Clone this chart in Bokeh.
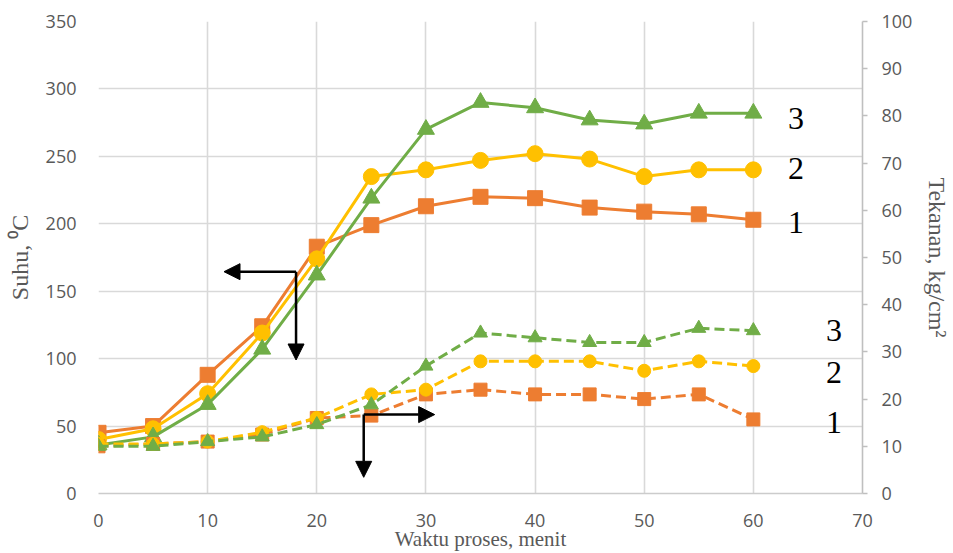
from bokeh.plotting import figure
from bokeh.models import Range1d, LinearAxis, Arrow, NormalHead, Label, FixedTicker
from bokeh.embed import file_html
from bokeh.resources import INLINE

# ---- data ----
waktu = [0, 5, 10, 15, 20, 25, 30, 35, 40, 45, 50, 55, 60]

suhu_1 = [45, 50, 88, 124, 183, 199, 213, 220, 219, 212, 209, 207, 203]
suhu_2 = [40, 48, 74, 119, 174, 235, 240, 247, 252, 248, 235, 240, 240]
suhu_3 = [36, 42, 66, 107, 162, 219, 270, 290, 286, 277, 274, 282, 282]

tekanan_1 = [10, 10.5, 11, 12.5, 16, 16.5, 21, 22, 21, 21, 20, 21, 15.7]
tekanan_2 = [10.5, 10.5, 11, 13, 16, 21, 22, 28, 28, 28, 26, 28, 27]
tekanan_3 = [10, 10, 11, 12, 14.6, 18.8, 27, 34, 33, 32, 32, 35, 34.5]

x_ticks = [0, 10, 20, 30, 40, 50, 60, 70]
left_ticks = [0, 50, 100, 150, 200, 250, 300, 350]
right_ticks = [0, 10, 20, 30, 40, 50, 60, 70, 80, 90, 100]

series_labels = ["1", "2", "3"]
label_x_suhu = 63.9
label_y_suhu = [201, 241, 278]
label_x_tek = 67.4
label_y_tek = [53, 90, 121]

# arrows (x0, y0, x1, y1) in data units of left axis
arrows = [
    (18.1, 164.5, 11.5, 164.5),
    (18.1, 164.5, 18.1, 99.0),
    (24.3, 58.5, 30.8, 58.5),
    (24.3, 58.5, 24.3, 12.0),
]

orange = "#ED7D31"
yellow = "#FFC000"
green = "#70AD47"
colors = [orange, yellow, green]
markers = ["square", "circle", "triangle"]
msize_solid = [15, 16, 17]
msize_dash = [13, 13, 14]

grey_text = "#595959"
grid_col = "#d9d9d9"

p = figure(width=953, height=553, x_range=Range1d(0, 70), y_range=Range1d(0, 350),
           output_backend="svg", toolbar_location=None,
           min_border_left=98, min_border_right=90, min_border_top=21, min_border_bottom=60)
p.extra_y_ranges = {"right": Range1d(0, 100)}
p.outline_line_color = None
p.background_fill_color = "white"

# grid
p.xgrid.ticker = FixedTicker(ticks=x_ticks)
p.ygrid.ticker = FixedTicker(ticks=left_ticks)
for g in (p.xgrid, p.ygrid):
    g.grid_line_color = grid_col
    g.grid_line_width = 1.6

# bottom axis
xa = p.xaxis[0]
xa.ticker = FixedTicker(ticks=x_ticks)
xa.axis_label = "Waktu proses, menit"
xa.axis_label_text_font = "Liberation Serif"
xa.axis_label_text_font_style = "normal"
xa.axis_label_text_font_size = "21px"
xa.axis_label_text_color = grey_text
xa.axis_label_standoff = -3
xa.major_label_text_font = "Open Sans"
xa.major_label_text_font_size = "18px"
xa.major_label_text_color = grey_text
xa.major_label_standoff = 14
xa.major_tick_line_color = None
xa.minor_tick_line_color = None
xa.axis_line_color = "#cccccc"
xa.axis_line_width = 1.6

# left axis
ya = p.yaxis[0]
ya.ticker = FixedTicker(ticks=left_ticks)
ya.axis_label = "Suhu, \u2070C"
ya.axis_label_text_font = "Liberation Serif"
ya.axis_label_text_font_style = "normal"
ya.axis_label_text_font_size = "24px"
ya.axis_label_text_color = grey_text
ya.axis_label_standoff = 10
ya.major_label_text_font = "Open Sans"
ya.major_label_text_font_size = "18px"
ya.major_label_text_color = grey_text
ya.major_label_standoff = 16
ya.major_tick_line_color = None
ya.minor_tick_line_color = None
ya.axis_line_color = None

# right axis
ra = LinearAxis(y_range_name="right", ticker=FixedTicker(ticks=right_ticks))
ra.axis_label = "Tekanan, kg/cm\u00b2"
ra.axis_label_text_font = "Liberation Serif"
ra.axis_label_text_font_style = "normal"
ra.axis_label_text_font_size = "24px"
ra.axis_label_text_color = grey_text
ra.axis_label_standoff = 9
ra.major_label_text_font = "Open Sans"
ra.major_label_text_font_size = "18px"
ra.major_label_text_color = grey_text
ra.major_label_standoff = 14
ra.major_tick_in = 0
ra.major_tick_out = 5
ra.major_tick_line_color = "#bfbfbf"
ra.major_tick_line_width = 1.5
ra.minor_tick_line_color = None
ra.axis_line_color = "#bfbfbf"
ra.axis_line_width = 1.6
p.add_layout(ra, "right")

# temperature series (solid, left axis)
for ys, c, m, s in zip([suhu_1, suhu_2, suhu_3], colors, markers, msize_solid):
    p.line(waktu, ys, line_color=c, line_width=3)
    p.scatter(waktu, ys, marker=m, size=s, fill_color=c, line_color=c)

# pressure series (dashed, right axis)
for ys, c, m, s in zip([tekanan_1, tekanan_2, tekanan_3], colors, markers, msize_dash):
    p.line(waktu, ys, line_color=c, line_width=3, line_dash="10 5", y_range_name="right")
    p.scatter(waktu, ys, marker=m, size=s, fill_color=c, line_color=c, y_range_name="right")

# series number labels
for t, yv in zip(series_labels, label_y_suhu):
    p.add_layout(Label(x=label_x_suhu, y=yv, text=t, text_font="Liberation Serif",
                       text_font_size="32px", text_color="black", text_align="center",
                       text_baseline="alphabetic"))
for t, yv in zip(series_labels, label_y_tek):
    p.add_layout(Label(x=label_x_tek, y=yv, text=t, text_font="Liberation Serif",
                       text_font_size="32px", text_color="black", text_align="center",
                       text_baseline="alphabetic"))

# arrows
for (x0, y0, x1, y1) in arrows:
    p.add_layout(Arrow(x_start=x0, y_start=y0, x_end=x1, y_end=y1,
                       line_color="black", line_width=2.5,
                       end=NormalHead(size=16, fill_color="black", line_color="black")))

open("out.html", "w").write(file_html(p, INLINE))
